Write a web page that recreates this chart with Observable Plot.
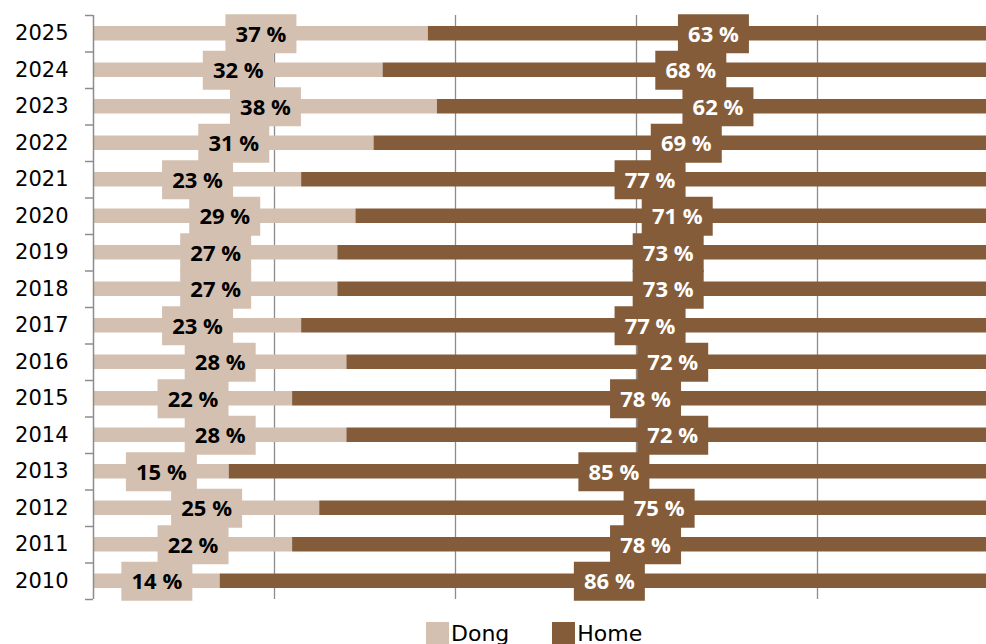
<!DOCTYPE html>
<html><head><meta charset="utf-8">
<script src="https://cdn.jsdelivr.net/npm/d3@7"></script>
<script src="https://cdn.jsdelivr.net/npm/@observablehq/plot@0.6"></script>
<style>
html,body{margin:0;padding:0;background:#fff;}
body{width:986px;height:644px;overflow:hidden;}
#chart svg{max-width:none;display:block;}
#legend{padding-left:426px;margin-top:11px;}
.lg-swatches{margin:0 !important;min-height:0 !important;font-family:"DejaVu Sans";font-size:22px;color:#000;}
.lg-swatch{margin-right:43px !important;}
.lg-swatch > svg{margin-right:2px !important;}
</style></head><body>
<div id="chart"></div>
<div id="legend"></div>
<script>
const years = [2010,2011,2012,2013,2014,2015,2016,2017,2018,2019,2020,2021,2022,2023,2024,2025];
const dong  = [14,22,25,15,28,22,28,23,27,27,29,23,31,38,32,37];
const home  = [86,78,75,85,72,78,72,77,73,73,71,77,69,62,68,63];
const series = ["Dong","Home"];
const colors = ["#d4c0b1","#845c3a"];
const gridTicks = [20,40,60,80];

const rows = years.flatMap((y,i)=>[
  {year:y, series:"Dong", x1:0, x2:dong[i], v:dong[i]},
  {year:y, series:"Home", x1:dong[i], x2:dong[i]+home[i], v:home[i]}
]);
const bounds = years.map(y=>y-0.5).concat([years[years.length-1]+0.5]);
const box = {draw(ctx){ ctx.rect(-35.5,-19.5,71,39); }};
const mid = d => (d.x1+d.x2)/2;
const labelFont = {fontFamily:"Open Sans", fontWeight:700, fontSize:22, dy:1};

const plot = Plot.plot({
  width: 998, height: 610,
  marginTop: 15, marginBottom: 11, marginLeft: 93, marginRight: 0,
  x: {domain:[0,100], axis:null},
  y: {domain:[years[0]-0.5, years[years.length-1]+0.5], axis:null},
  color: {domain: series, range: colors},
  marks: [
    Plot.ruleX(gridTicks, {stroke:"#8c8c8c", strokeWidth:1.3}),
    Plot.rectX(rows, {x1:"x1", x2:"x2", y1:d=>d.year-0.5, y2:d=>d.year+0.5, fill:"series", insetTop:11, insetBottom:11}),
    Plot.ruleX([0], {stroke:"#8c8c8c", strokeWidth:1.5}),
    Plot.axisY(bounds, {tickSize:8, tickFormat:()=> "", label:null, stroke:"#8c8c8c", strokeWidth:1.5}),
    Plot.axisY(years, {tickSize:0, tickPadding:25, tickFormat:d=>`${d}`, label:null, fontSize:21, fontFamily:"DejaVu Sans", fill:"#000"}),
    Plot.dot(rows, {x:mid, y:"year", symbol:box, fill:"series", stroke:null}),
    Plot.text(rows.filter(d=>d.series==="Dong"), {x:mid, y:"year", text:d=>`${d.v} %`, fill:"#000", ...labelFont}),
    Plot.text(rows.filter(d=>d.series==="Home"), {x:mid, y:"year", text:d=>`${d.v} %`, fill:"#fff", ...labelFont})
  ]
});
document.getElementById("chart").append(plot);
document.getElementById("legend").append(plot.legend("color", {swatchSize:23, className:"lg"}));
</script>
</body></html>
